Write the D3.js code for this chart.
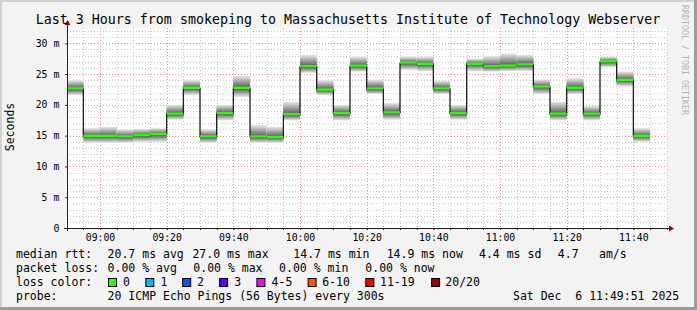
<!DOCTYPE html>
<html><head><meta charset="utf-8">
<script src="https://cdn.jsdelivr.net/npm/d3@7"></script>
<style>
body{margin:0;background:#f3f3f3}
svg{display:block}
text{font-family:"DejaVu Sans Mono",monospace;fill:#000;white-space:pre}
</style>
</head><body><svg id="c" width="697" height="310"></svg>
<script>
// ---- data ----
const binStart = ["08:50","08:55","09:00","09:05","09:10","09:15","09:20","09:25","09:30","09:35",
  "09:40","09:45","09:50","09:55","10:00","10:05","10:10","10:15","10:20","10:25",
  "10:30","10:35","10:40","10:45","10:50","10:55","11:00","11:05","11:10","11:15",
  "11:20","11:25","11:30","11:35","11:40"];
const median = [22.6,14.9,14.9,14.8,15.0,15.2,18.5,22.7,14.8,18.6,
  22.7,14.8,14.7,18.4,26.2,22.4,18.6,26.3,22.6,18.7,
  26.8,26.6,22.6,18.6,26.6,26.2,26.3,26.5,22.9,18.5,
  22.7,18.5,27.0,24.0,14.9];
const smokeLo = [21.6,13.85,13.85,13.85,14.0,14.0,17.6,21.6,13.85,17.5,
  21.3,13.85,13.85,17.5,25.2,21.6,17.5,25.4,21.75,17.6,
  25.65,25.5,21.75,17.6,25.5,25.4,25.5,25.5,21.75,17.5,
  21.75,17.5,26.1,23.05,14.0];
const smokeHi = [24.0,16.2,16.4,16.0,16.1,16.2,20.0,24.0,16.0,20.0,
  24.7,16.7,16.4,20.5,28.1,24.0,20.0,27.8,24.1,20.3,
  27.8,27.8,23.9,20.0,27.5,27.9,28.35,28.1,24.1,20.5,
  24.3,19.8,27.8,25.4,16.2];
const yTicks = [0,5,10,15,20,25,30];
const yTickLabels = ["0","5 m","10 m","15 m","20 m","25 m","30 m"];
const xTickLabels = ["09:00","09:20","09:40","10:00","10:20","10:40","11:00","11:20","11:40"];
const lossLabels = ["0","1","2","3","4-5","6-10","11-19","20/20"];
const lossColors = ["#26ff00","#00b8ff","#0059ff","#5e00ff","#ff00ff","#ff5500","#ff0000","#a00000"];
const rttStats = ["20.7 ms avg","27.0 ms max","14.7 ms min","14.9 ms now","4.4 ms sd","4.7","am/s"];
const lossStats = ["0.00 % avg","0.00 % max","0.00 % min","0.00 % now"];
const titleText = "Last 3 Hours from smokeping to Massachusetts Institute of Technology Webserver";
const probeText = "20 ICMP Echo Pings (56 Bytes) every 300s";
const dateText = "Sat Dec  6 11:49:51 2025";

// ---- layout ----
const L = 67, R = 667, T = 28, B = 228;
const svg = d3.select("#c");
const day = (hm) => { const [h,m] = hm.split(":").map(Number); return new Date(Date.UTC(2025,11,6,h,m)); };
const x = d3.scaleUtc().domain([new Date(Date.UTC(2025,11,6,8,50,6)), new Date(Date.UTC(2025,11,6,11,50,6))]).range([L,R]);
const y = d3.scaleLinear().domain([0,32.48]).range([B,T]);

svg.append("rect").attr("width",697).attr("height",310).attr("fill","#f3f3f3");
svg.append("rect").attr("x",L).attr("y",T).attr("width",R-L).attr("height",B-T).attr("fill","#fff");

// grid
const g = svg.append("g");
const minorX = x.ticks(d3.utcMinute.every(5));
const majorX = xTickLabels.map(day);
const isMajorX = d => majorX.some(m => +m === +d);
g.selectAll("line.mx").data(minorX.filter(d=>!isMajorX(d))).join("line")
  .attr("x1",d=>Math.round(x(d))+0.5).attr("x2",d=>Math.round(x(d))+0.5).attr("y1",T).attr("y2",B)
  .attr("stroke","#c8c8c8").attr("stroke-dasharray","1,2");
const minorY = d3.range(1,33).filter(v=>v%5!==0);
g.selectAll("line.my").data(minorY).join("line")
  .attr("x1",L).attr("x2",R).attr("y1",d=>Math.round(y(d))+0.5).attr("y2",d=>Math.round(y(d))+0.5)
  .attr("stroke","#c8c8c8").attr("stroke-dasharray","1,2");
g.selectAll("line.Mx").data(majorX).join("line")
  .attr("x1",d=>Math.round(x(d))+0.5).attr("x2",d=>Math.round(x(d))+0.5).attr("y1",T).attr("y2",B)
  .attr("stroke","#f09090").attr("stroke-dasharray","1,2");
g.selectAll("line.My").data(yTicks.slice(1)).join("line")
  .attr("x1",L).attr("x2",R).attr("y1",d=>Math.round(y(d))+0.5).attr("y2",d=>Math.round(y(d))+0.5)
  .attr("stroke","#f09090").attr("stroke-dasharray","1,2");

// smoke
svg.append("clipPath").attr("id","pc").append("rect").attr("x",L).attr("y",T).attr("width",R-L).attr("height",B-T);
const plot = svg.append("g").attr("clip-path","url(#pc)");
const NL = 8;
const gray = d3.interpolateRgb("#dedede","#5c5c5c");
binStart.forEach((s,i)=>{
  const x0 = x(day(s)), x1 = x(new Date(+day(s)+300000));
  for(let k=0;k<NL;k++){
    const lo = smokeLo[i] + (median[i]-smokeLo[i])*k/NL;
    const hi = smokeHi[i] - (smokeHi[i]-median[i])*k/NL;
    plot.append("rect").attr("x",x0).attr("width",x1-x0)
      .attr("y",y(hi)).attr("height",Math.max(0.5,y(lo)-y(hi))).attr("fill",gray(k/(NL-1)));
  }
});
// median step line
const pts = binStart.map((s,i)=>[x(day(s)),y(median[i])]);
pts.push([x(new Date(+day(binStart[binStart.length-1])+300000)), y(median[median.length-1])]);
plot.append("path").attr("d",d3.line().curve(d3.curveStepAfter)(pts))
  .attr("fill","none").attr("stroke","#111").attr("stroke-width",1.2);
plot.selectAll("rect.med").data(binStart).join("rect")
  .attr("x",d=>x(day(d))).attr("width",d=>x(new Date(+day(d)+300000))-x(day(d)))
  .attr("y",(d,i)=>y(median[i])-1.6).attr("height",2.4).attr("fill",lossColors[0]);

// axes
const xAxis = d3.axisBottom(x).tickValues(majorX).tickFormat((d,i)=>xTickLabels[i]).tickSize(2).tickPadding(4.3);
const xa = svg.append("g").attr("transform",`translate(0,${B})`).call(xAxis);
xa.select(".domain").remove();
xa.selectAll("text").style("font-family","DejaVu Sans Mono").style("font-size","9.8px").attr("fill","#000");
xa.selectAll("line").attr("stroke","#333");
const yAxis = d3.axisLeft(y).tickValues(yTicks).tickFormat((d,i)=>yTickLabels[i]).tickSize(2).tickPadding(5.7);
const ya = svg.append("g").attr("transform",`translate(${L},0)`).call(yAxis);
ya.select(".domain").remove();
ya.selectAll("text").style("font-family","DejaVu Sans Mono").style("font-size","9.8px").attr("fill","#000");
ya.selectAll("line").attr("stroke","#333");
// minor ticks on x axis
svg.selectAll("line.mt").data(minorX).join("line")
  .attr("x1",d=>Math.round(x(d))+0.5).attr("x2",d=>Math.round(x(d))+0.5).attr("y1",B).attr("y2",B+2).attr("stroke","#333");

svg.append("line").attr("x1",L-3).attr("x2",R+3).attr("y1",B+0.5).attr("y2",B+0.5).attr("stroke","#222");
svg.append("line").attr("x1",L+0.5).attr("x2",L+0.5).attr("y1",B+3).attr("y2",T-4).attr("stroke","#222");
svg.append("path").attr("d",`M${R+2},${B-2.5}L${R+7},${B+0.5}L${R+2},${B+3.5}Z`).attr("fill","#a00000");
svg.append("path").attr("d",`M${L-2.5},${T-3}L${L+0.5},${T-8}L${L+3.5},${T-3}Z`).attr("fill","#a00000");

// title & labels
svg.append("text").attr("x",348).attr("y",24).attr("text-anchor","middle").style("font-size","13.3px").text(titleText);
svg.append("text").attr("transform","translate(14,127) rotate(-90)").attr("text-anchor","middle").style("font-size","11.5px").text("Seconds");
svg.append("text").attr("transform","translate(682,5) rotate(90)").style("font-size","8.3px").style("fill","#b4b4b4").text("RRDTOOL / TOBI OETIKER");

// legend
const leg = svg.append("g").style("font-size","11.5px");
const row = (yy, items) => items.forEach(([xx,t])=>leg.append("text").attr("x",xx).attr("y",yy).text(t));
row(258,[[16,"median rtt:"],[107.6,rttStats[0]],[192.4,rttStats[1]],[293.3,rttStats[2]],[386.7,rttStats[3]],[479,rttStats[4]],[557.8,rttStats[5]],[599,rttStats[6]]]);
row(272,[[16,"packet loss:"],[107.6,lossStats[0]],[193.3,lossStats[1]],[279.1,lossStats[2]],[365.3,lossStats[3]]]);
row(286,[[16,"loss color:"]]);
const boxX = [108,145.3,182.2,219.1,256.4,307.6,365.3,431.1];
const labX = [123.1,160.4,196.9,234.2,271.6,322.2,380,445.3];
lossLabels.forEach((t,i)=>{
  leg.append("rect").attr("x",boxX[i]+0.5).attr("y",278.5).attr("width",8).attr("height",8)
    .attr("fill",lossColors[i]).attr("stroke","#000").attr("stroke-width",1);
  leg.append("text").attr("x",labX[i]).attr("y",286).text(t);
});
row(300,[[16,"probe:"],[107.6,probeText],[513,dateText]]);

// frame
svg.append("rect").attr("x",0).attr("y",0).attr("width",697).attr("height",2).attr("fill","#d2d2d2");
svg.append("rect").attr("x",0).attr("y",0).attr("width",2).attr("height",310).attr("fill","#d2d2d2");
svg.append("rect").attr("x",694).attr("y",0).attr("width",3).attr("height",310).attr("fill","#9c9c9c");
svg.append("rect").attr("x",0).attr("y",307).attr("width",697).attr("height",3).attr("fill","#9c9c9c");
</script></body></html>
